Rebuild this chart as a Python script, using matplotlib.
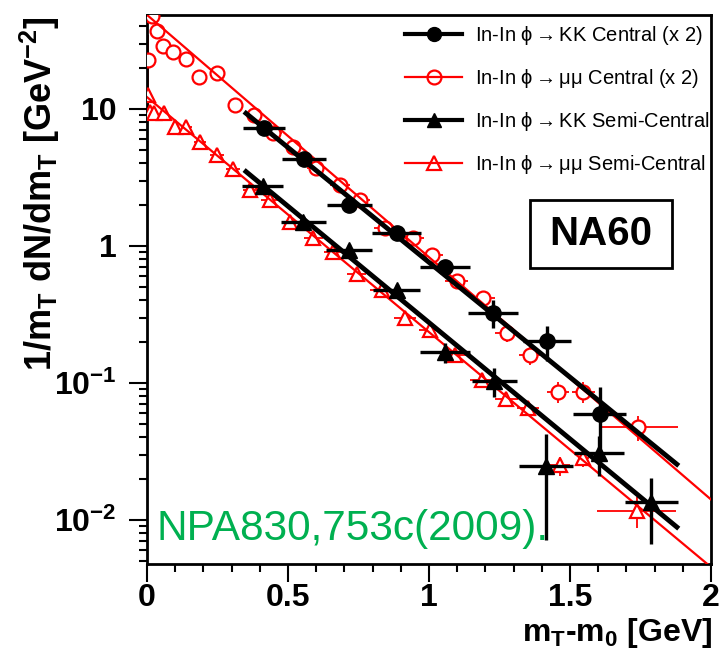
import matplotlib
matplotlib.use("Agg")
import matplotlib.pyplot as plt
from matplotlib.lines import Line2D
from matplotlib.patches import Rectangle
from matplotlib.ticker import LogLocator, NullFormatter, MultipleLocator

plt.rcParams['font.family'] = ['Liberation Sans', 'DejaVu Sans']
plt.rcParams['mathtext.fontset'] = 'custom'
plt.rcParams['mathtext.rm'] = 'Liberation Sans'
plt.rcParams['mathtext.bf'] = 'Liberation Sans:bold'
plt.rcParams['mathtext.it'] = 'Liberation Sans:italic'

# ---- data ----
# phi -> KK central (x2)
kkc_x = [0.415, 0.557, 0.717, 0.885, 1.057, 1.227, 1.419, 1.605]
kkc_y = [7.30, 4.31, 1.99, 1.25, 0.707, 0.326, 0.202, 0.059]
kkc_xerr = [0.074, 0.077, 0.08, 0.086, 0.089, 0.09, 0.086, 0.093]
kkc_yerr = [0.6, 0.34, 0.165, 0.115, 0.077, 0.075, 0.057, 0.034]

# phi -> KK semi-central
kks_x = [0.41, 0.554, 0.716, 0.885, 1.057, 1.232, 1.414, 1.602, 1.789]
kks_y = [2.72, 1.505, 0.93, 0.474, 0.168, 0.104, 0.0246, 0.031, 0.0135]
kks_xerr = [0.074, 0.08, 0.082, 0.083, 0.089, 0.08, 0.095, 0.088, 0.095]
kks_yerr = [0.24, 0.145, 0.095, 0.057, 0.028, 0.025, 0.0175, 0.010, 0.0068]

# phi -> mumu central (x2)
mmc_x = [0.005, 0.017, 0.037, 0.056, 0.093, 0.140, 0.186, 0.249, 0.312, 0.379,
         0.448, 0.519, 0.601, 0.684, 0.755, 0.844, 0.944, 1.009, 1.098, 1.193,
         1.275, 1.358, 1.458, 1.547, 1.742]
mmc_y = [22.8, 47.3, 37.3, 28.8, 26.2, 23.1, 17.2, 18.4, 10.7, 9.0,
         6.65, 5.31, 3.70, 2.79, 2.16, 1.35, 1.134, 0.861, 0.552, 0.417,
         0.230, 0.160, 0.086, 0.086, 0.0477]
mmc_xerr = [0.005, 0.008, 0.01, 0.01, 0.015, 0.02, 0.02, 0.025, 0.025, 0.025,
            0.03, 0.03, 0.035, 0.035, 0.035, 0.04, 0.04, 0.04, 0.04, 0.04,
            0.04, 0.04, 0.04, 0.04, 0.14]
mmc_yerr = [12.0, 3.0, 2.5, 2.0, 1.6, 1.4, 1.1, 1.1, 0.7, 0.6,
            0.45, 0.35, 0.25, 0.2, 0.16, 0.1, 0.09, 0.07, 0.05, 0.04,
            0.03, 0.025, 0.015, 0.015, 0.01]

# phi -> mumu semi-central
mms_x = [0.005, 0.010, 0.025, 0.060, 0.099, 0.140, 0.188, 0.247, 0.306, 0.365,
         0.436, 0.507, 0.590, 0.661, 0.743, 0.832, 0.915, 1.003, 1.092, 1.187,
         1.274, 1.351, 1.465, 1.547, 1.736]
mms_y = [12.6, 9.5, 9.3, 9.3, 7.4, 7.4, 5.77, 4.62, 3.62, 2.57,
         2.16, 1.505, 1.134, 0.91, 0.629, 0.474, 0.297, 0.244, 0.160, 0.105,
         0.0758, 0.0655, 0.025, 0.0282, 0.0117]
mms_xerr = [0.005, 0.005, 0.01, 0.01, 0.015, 0.02, 0.02, 0.025, 0.025, 0.025,
            0.03, 0.03, 0.035, 0.035, 0.035, 0.04, 0.04, 0.04, 0.04, 0.04,
            0.04, 0.04, 0.036, 0.02, 0.14]
mms_yerr = [4.0, 1.0, 0.8, 0.7, 0.6, 0.5, 0.4, 0.35, 0.28, 0.2,
            0.17, 0.12, 0.09, 0.07, 0.05, 0.04, 0.025, 0.02, 0.014, 0.01,
            0.008, 0.007, 0.004, 0.004, 0.003]

# exponential fits (straight on log axis): end points
fit_mmc_x = [0.0, 2.0]
fit_mmc_y = [48.6, 0.0141]
fit_mms_x = [0.0, 2.0]
fit_mms_y = [12.2, 0.00453]
fit_kkc_x = [0.351, 1.879]
fit_kkc_y = [9.3, 0.0255]
fit_kks_x = [0.351, 1.879]
fit_kks_y = [3.49, 0.00887]

labels = [r"In-In ϕ$\rightarrow$KK Central (x 2)",
          r"In-In ϕ$\rightarrow$μμ Central (x 2)",
          r"In-In ϕ$\rightarrow$KK Semi-Central",
          r"In-In ϕ$\rightarrow$μμ Semi-Central"]

xticks = [0, 0.5, 1, 1.5, 2]
xticklabels = ["0", "0.5", "1", "1.5", "2"]
yticks = [0.01, 0.1, 1, 10]
yticklabels = [r"10$^{\mathbf{-2}}$", r"10$^{\mathbf{-1}}$", "1", "10"]

# ---- figure ----
W, H = 723, 660
fig = plt.figure(figsize=(W / 100, H / 100), dpi=100)
ax = fig.add_axes([147 / W, 1 - 564 / H, (711 - 147) / W, (564 - 15) / H])
ax.set_yscale('log')
ax.set_xlim(0, 2)
ax.set_ylim(0.00477, 48.5)

RED = '#ff0000'
ms = 10
# red data: error bars below, open (white-filled) markers, fit lines on top
for xs, ys, xe, ye, mk in [(mmc_x, mmc_y, mmc_xerr, mmc_yerr, 'o'),
                           (mms_x, mms_y, mms_xerr, mms_yerr, '^')]:
    ax.errorbar(xs, ys, xerr=xe, yerr=ye, fmt='none', ecolor=RED,
                elinewidth=1.3, capsize=0, zorder=2)
    ax.plot(xs, ys, linestyle='none', marker=mk, ms=ms, mfc='white',
            mec=RED, mew=1.6, zorder=3)
ax.plot(fit_mmc_x, fit_mmc_y, color=RED, lw=1.6, zorder=3.5)
ax.plot(fit_mms_x, fit_mms_y, color=RED, lw=1.6, zorder=3.5)
# black fits & data
ax.plot(fit_kkc_x, fit_kkc_y, color='black', lw=3.5, zorder=4)
ax.plot(fit_kks_x, fit_kks_y, color='black', lw=3.5, zorder=4)
ax.errorbar(kkc_x, kkc_y, xerr=kkc_xerr, yerr=kkc_yerr, fmt='o', ms=11,
            mfc='black', mec='black', ecolor='black', elinewidth=2.4,
            capsize=0, zorder=5)
ax.errorbar(kks_x, kks_y, xerr=kks_xerr, yerr=kks_yerr, fmt='^', ms=11,
            mfc='black', mec='black', ecolor='black', elinewidth=2.4,
            capsize=0, zorder=5)

# ticks
ax.set_xticks(xticks)
ax.set_xticklabels(xticklabels)
ax.xaxis.set_minor_locator(MultipleLocator(0.1))
ax.set_yticks(yticks)
ax.set_yticklabels(yticklabels)
ax.yaxis.set_minor_locator(LogLocator(base=10, subs=range(2, 10), numticks=20))
ax.yaxis.set_minor_formatter(NullFormatter())
ax.tick_params(which='major', direction='out', length=13, width=1.5,
               labelsize=23)
ax.tick_params(axis='y', which='major', pad=9)
ax.tick_params(axis='x', which='major', pad=1)
ax.tick_params(which='minor', direction='out', length=6, width=1.5)
for lab in ax.get_xticklabels() + ax.get_yticklabels():
    lab.set_fontweight('bold')
for s in ax.spines.values():
    s.set_linewidth(2)

# legend
handles = [
    Line2D([], [], color='black', lw=3, marker='o', ms=10, mfc='black', mec='black'),
    Line2D([], [], color=RED, lw=1.6, marker='o', ms=10, mfc='none', mec=RED, mew=1.6),
    Line2D([], [], color='black', lw=3, marker='^', ms=10, mfc='black', mec='black'),
    Line2D([], [], color=RED, lw=1.6, marker='^', ms=10, mfc='none', mec=RED, mew=1.6),
]
ax.legend(handles, labels, loc='upper left',
          bbox_to_anchor=(405 / W, 1 - 24 / H), bbox_transform=fig.transFigure,
          frameon=False, fontsize=14.5, handlelength=2.85, handletextpad=0.65,
          labelspacing=1.0, borderpad=0, borderaxespad=0)

# NA60 box
fig.patches.append(Rectangle((530 / W, 1 - 268 / H), 142 / W, 68 / H,
                             transform=fig.transFigure, fill=False,
                             lw=2, ec='black', fc='none'))
fig.text(601 / W, 1 - 234 / H, "NA60", ha='center', va='center',
         fontsize=29, fontweight='bold')

# reference text
fig.text(157 / W, 1 - 540 / H, "NPA830,753c(2009).", ha='left', va='baseline',
         fontsize=30.5, color='#00b050')

# axis titles
fig.text(40 / W, 1 - 16 / H,
         r"1/m$_{\mathbf{T}}$ dN/dm$_{\mathbf{T}}$ [GeV$^{\mathbf{-2}}$]",
         rotation=90, ha='center', va='top', fontsize=26, fontweight='bold')
fig.text(712 / W, 1 - 633 / H, r"m$_{\mathbf{T}}$-m$_{\mathbf{0}}$ [GeV]",
         ha='right', va='center', fontsize=23, fontweight='bold')

fig.savefig("out.png", dpi=100)
